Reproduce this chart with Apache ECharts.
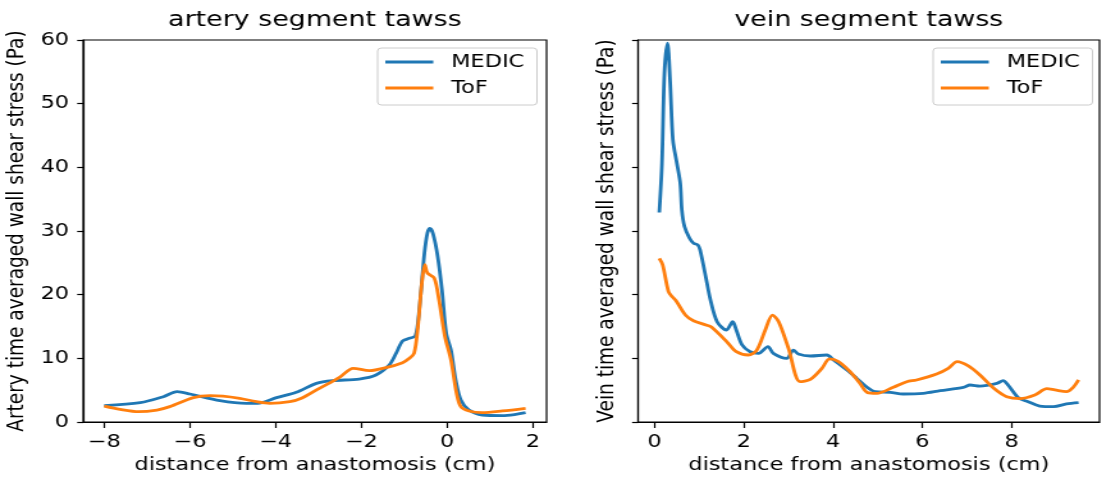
<!DOCTYPE html>
<html>
<head>
<meta charset="utf-8">
<script src="https://cdn.jsdelivr.net/npm/echarts@6/dist/echarts.min.js"></script>
<style>
  html, body { margin: 0; padding: 0; background: #fff; overflow: hidden; }
  /* the reference image is a horizontally stretched matplotlib figure */
  #chart { width: 864px; height: 481px; transform: scaleX(1.28); transform-origin: 0 0; }
</style>
</head>
<body>
<div id="chart"></div>
<script>
// artery segment (cm from anastomosis, TAWSS in Pa)
const arteryMedicX = [-8.0, -7.16, -6.62, -6.30, -6.0, -5.30, -4.68, -4.37, -3.98, -3.52, -3.05, -2.67, -2.05, -1.66, -1.35, -1.19, -1.04, -0.88, -0.74, -0.65, -0.53, -0.46, -0.40, -0.33, -0.22, -0.12, -0.02, 0.09, 0.20, 0.32, 0.51, 0.82, 1.29, 1.60, 1.83];
const arteryMedicY = [2.56, 3.03, 3.97, 4.76, 4.4, 3.35, 2.93, 2.98, 3.82, 4.66, 6.07, 6.49, 6.75, 7.38, 8.95, 10.79, 12.72, 13.14, 13.51, 17.6, 26.5, 29.7, 30.4, 29.6, 26.0, 20.7, 13.9, 11.3, 6.6, 3.46, 1.88, 1.10, 1.0, 1.2, 1.47];
const arteryTofX = [-8.0, -7.63, -7.2, -6.77, -6.47, -5.92, -5.53, -5.23, -4.84, -4.45, -4.14, -3.67, -3.40, -2.98, -2.51, -2.19, -1.81, -1.43, -1.04, -0.88, -0.77, -0.69, -0.59, -0.52, -0.46, -0.30, -0.19, -0.05, 0.09, 0.22, 0.32, 0.51, 0.82, 1.29, 1.83];
const arteryTofY = [2.5, 1.99, 1.62, 1.88, 2.41, 3.82, 4.14, 4.08, 3.72, 3.19, 2.93, 3.19, 3.72, 5.29, 7.02, 8.43, 8.06, 8.53, 9.32, 10.0, 10.8, 14.4, 21.8, 24.7, 23.4, 22.6, 19.2, 13.4, 9.74, 4.5, 2.41, 1.73, 1.47, 1.73, 2.15];

// vein segment
const veinMedicX = [0.105, 0.165, 0.22, 0.29, 0.35, 0.41, 0.50, 0.575, 0.61, 0.67, 0.78, 0.87, 0.97, 1.02, 1.16, 1.25, 1.40, 1.61, 1.75, 1.83, 1.96, 2.14, 2.33, 2.54, 2.66, 2.96, 3.11, 3.22, 3.49, 3.86, 4.01, 4.31, 4.53, 4.76, 4.94, 5.28, 5.57, 6.02, 6.40, 6.92, 7.07, 7.29, 7.67, 7.81, 7.92, 8.15, 8.37, 8.63, 8.94, 9.23, 9.5];
const veinMedicY = [32.9, 40.6, 54.8, 59.5, 53.2, 44.3, 40.6, 37.5, 33.3, 30.7, 28.9, 28.1, 27.8, 27.0, 22.3, 19.2, 15.75, 14.45, 15.75, 14.45, 12.1, 11.04, 10.79, 11.83, 10.79, 10.0, 11.3, 10.68, 10.37, 10.52, 9.74, 8.17, 6.86, 5.45, 4.76, 4.66, 4.40, 4.5, 4.92, 5.45, 5.81, 5.65, 6.07, 6.49, 5.81, 3.82, 3.19, 2.51, 2.41, 2.83, 3.03];
const veinTofX = [0.105, 0.18, 0.31, 0.39, 0.48, 0.69, 0.87, 1.17, 1.28, 1.62, 1.83, 2.10, 2.29, 2.48, 2.64, 2.78, 3.0, 3.26, 3.49, 3.75, 3.92, 4.12, 4.38, 4.60, 4.77, 4.98, 5.35, 5.65, 5.87, 6.32, 6.58, 6.78, 7.03, 7.29, 7.60, 7.89, 8.19, 8.52, 8.79, 8.97, 9.23, 9.38, 9.5];
const veinTofY = [25.7, 24.7, 20.5, 19.7, 19.05, 16.8, 15.9, 15.2, 14.87, 12.6, 11.04, 10.52, 11.3, 14.45, 16.8, 15.75, 11.57, 6.33, 6.7, 8.43, 9.9, 9.48, 7.9, 6.07, 4.61, 4.5, 5.45, 6.33, 6.6, 7.54, 8.43, 9.48, 8.8, 7.38, 5.29, 3.97, 3.66, 4.24, 5.23, 5.03, 4.76, 5.45, 6.6];

const arteryTicks = [-8, -6, -4, -2, 0, 2];
const veinTicks = [0, 2, 4, 6, 8];
const seriesNames = ['MEDIC', 'ToF'];
const titles = ['artery segment tawss', 'vein segment tawss'];

const FONT = 'DejaVu Sans';
const BLUE = '#1f77b4';
const ORANGE = '#ff7f0e';

function pairs(xs, ys) {
  return xs.map((x, i) => [x, ys[i]]);
}
function fmt(v) {
  return v < 0 ? '\u2212' + Math.abs(v) : String(v);
}

const chart = echarts.init(document.getElementById('chart'));

const grids = [
  { left: 65, top: 40, width: 362, height: 382 },
  { left: 498.5, top: 40, width: 360.5, height: 382 }
];

function xAxis(idx, min, max, ticks) {
  return {
    type: 'value', gridIndex: idx, min: min, max: max,
    name: 'distance from anastomosis (cm)', nameLocation: 'middle', nameGap: 34,
    nameTextStyle: { fontFamily: FONT, fontSize: 17.5, color: '#000' },
    axisLine: { show: true, onZero: false, lineStyle: { color: '#000', width: 1.2 } },
    axisTick: { show: true, inside: false, length: 6, customValues: ticks, lineStyle: { color: '#000', width: 1.2 } },
    axisLabel: { show: true, margin: 11, customValues: ticks, formatter: fmt, fontFamily: FONT, fontSize: 17.5, color: '#000' },
    splitLine: { show: false }
  };
}
function yAxis(idx, name, gap, showLabels) {
  return {
    type: 'value', gridIndex: idx, min: 0, max: 60, interval: 10,
    name: name, nameLocation: 'middle', nameGap: gap,
    nameTextStyle: { fontFamily: FONT, fontSize: 18.5, color: '#000' },
    axisLine: { show: true, onZero: false, lineStyle: { color: '#000', width: 1.2 } },
    axisTick: { show: true, inside: false, length: 4.7, lineStyle: { color: '#000', width: 1.2 } },
    axisLabel: { show: showLabels, margin: 11, fontFamily: FONT, fontSize: 17.5, color: '#000' },
    splitLine: { show: false }
  };
}
function legend(left) {
  return {
    data: seriesNames, orient: 'vertical', left: left, top: 48,
    icon: 'rect', itemWidth: 37.5, itemHeight: 2.8, itemGap: 8,
    padding: [5, 10, 8, 6],
    backgroundColor: '#fff', borderColor: '#cccccc', borderWidth: 1, borderRadius: 3,
    textStyle: { fontFamily: FONT, fontSize: 17.5, lineHeight: 18, color: '#000', padding: [0, 0, 0, 9] }
  };
}
function line(name, color, idx, data) {
  return {
    name: name, type: 'line', xAxisIndex: idx, yAxisIndex: idx,
    data: data, symbol: 'none', smooth: 0.3,
    lineStyle: { color: color, width: 2.8 }, itemStyle: { color: color }
  };
}

chart.setOption({
  animation: false,
  backgroundColor: '#fff',
  grid: grids.map(g => Object.assign({ show: true, borderColor: '#000', borderWidth: 1.2, outerBoundsMode: 'none', containLabel: false }, g)),
  xAxis: [xAxis(0, -8.49, 2.32, arteryTicks), xAxis(1, -0.37, 9.97, veinTicks)],
  yAxis: [
    yAxis(0, 'Artery time averaged wall shear stress (Pa)', 42, true),
    yAxis(1, 'Vein time averaged wall shear stress (Pa)', 15, false)
  ],
  legend: [legend(295), legend(729)],
  graphic: titles.map((t, i) => ({
    type: 'text',
    x: grids[i].left + grids[i].width / 2, y: 21,
    style: { text: t, fontFamily: FONT, fontSize: 21, fill: '#000', align: 'center', verticalAlign: 'middle' }
  })),
  series: [
    line(seriesNames[0], BLUE, 0, pairs(arteryMedicX, arteryMedicY)),
    line(seriesNames[1], ORANGE, 0, pairs(arteryTofX, arteryTofY)),
    line(seriesNames[0], BLUE, 1, pairs(veinMedicX, veinMedicY)),
    line(seriesNames[1], ORANGE, 1, pairs(veinTofX, veinTofY))
  ]
});
</script>
</body>
</html>
